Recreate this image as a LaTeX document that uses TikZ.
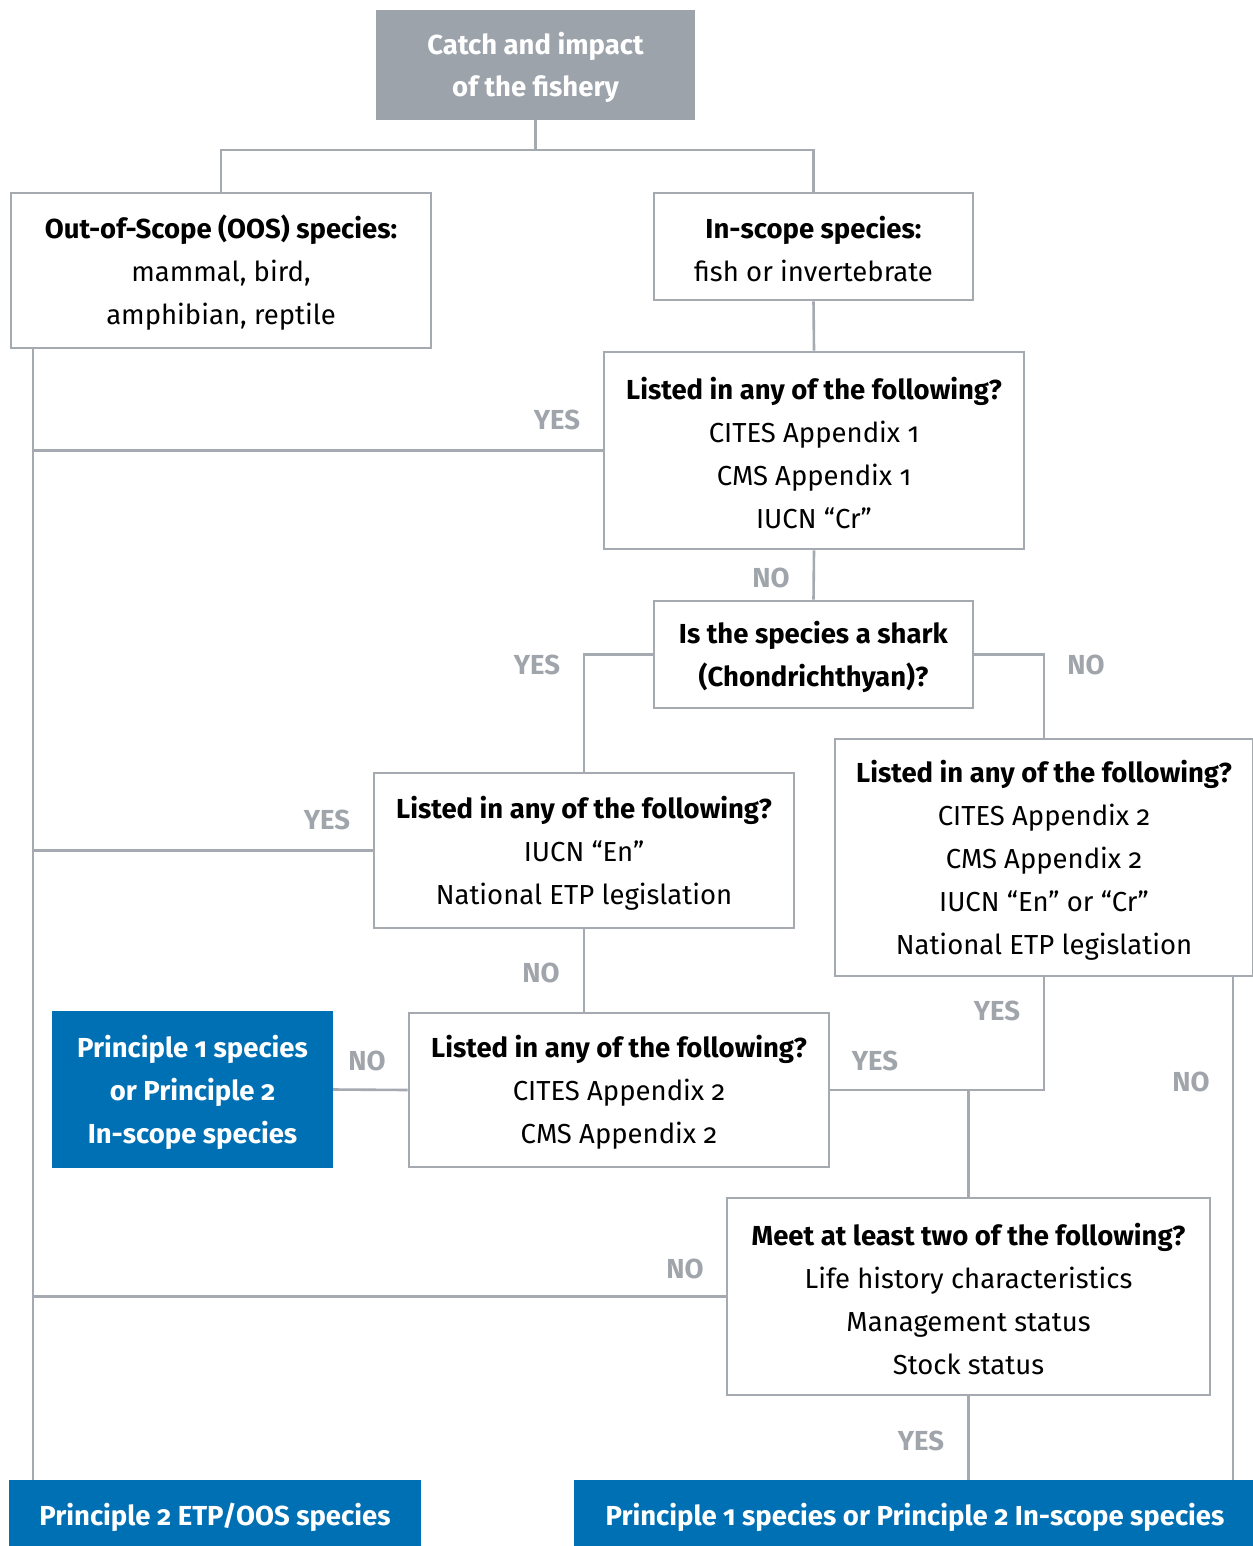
\documentclass[tikz,border=0pt]{standalone}
\usepackage{fontspec}
\setmainfont{Fira Sans}[Numbers=OldStyle]
\usetikzlibrary{calc}
\definecolor{linegray}{RGB}{165,170,177}
\definecolor{titlegray}{RGB}{157,163,171}
\definecolor{lblgray}{RGB}{160,165,172}
\definecolor{msblue}{RGB}{0,112,181}
\newcommand\tstr{\rule{0pt}{27.5pt}}
\newcommand\bstr{\rule{0pt}{31pt}}
\tikzset{
  qbox/.style={draw=linegray, line width=2.6pt, fill=white, inner sep=0pt, align=center,
    font=\fontsize{27.5}{43}\selectfont, text=black},
  bluebox/.style={fill=msblue, inner sep=0pt, align=center, text=white,
    font=\fontsize{27.5}{43}\selectfont\bfseries},
  conn/.style={draw=linegray, line width=2.6pt},
  lbl/.style={text=lblgray, font=\fontsize{27.5}{30}\selectfont\bfseries, inner sep=0pt},
}
\begin{document}
\begin{tikzpicture}[x=1pt,y=-1pt]
\useasboundingbox (0,0) rectangle (1252,1546);
\coordinate (lx) at (33,0);
\coordinate (rx) at (1233,0);
% boxes
\node[fill=titlegray, text=white, inner sep=0pt, align=center, font=\fontsize{27.5}{42}\selectfont\bfseries,
  minimum width=319pt, minimum height=110pt] (top) at (535.5,65) {\tstr Catch and impact\\of the fishery};
\node[qbox, minimum width=420pt, minimum height=155pt] (oos) at (221,270.5)
  {\tstr\textbf{Out-of-Scope (OOS) species:}\\mammal, bird,\\amphibian, reptile};
\node[qbox, minimum width=319pt, minimum height=107pt] (insc) at (813.5,246.5)
  {\tstr\textbf{In-scope species:}\\fish or invertebrate};
\node[qbox, minimum width=420pt, minimum height=197pt] (la) at (814,450.5)
  {\tstr\textbf{Listed in any of the following?}\\CITES Appendix 1\\CMS Appendix 1\\IUCN “Cr”};
\node[qbox, minimum width=319pt, minimum height=107pt] (shark) at (813.5,654.5)
  {\tstr\textbf{Is the species a shark}\\\textbf{(Chondrichthyan)?}};
\node[qbox, minimum width=418pt, minimum height=237pt] (lr) at (1044,857.5)
  {\tstr\textbf{Listed in any of the following?}\\CITES Appendix 2\\CMS Appendix 2\\IUCN “En” or “Cr”\\National ETP legislation};
\node[qbox, minimum width=420pt, minimum height=155pt] (lm) at (584,850.5)
  {\tstr\textbf{Listed in any of the following?}\\IUCN “En”\\National ETP legislation};
\node[qbox, minimum width=420pt, minimum height=154pt] (ll) at (619,1090)
  {\tstr\textbf{Listed in any of the following?}\\CITES Appendix 2\\CMS Appendix 2};
\node[bluebox, minimum width=281pt, minimum height=157pt] (p1) at (192.5,1089.5)
  {\tstr Principle 1 species\\or Principle 2\\In-scope species};
\node[qbox, minimum width=483pt, minimum height=197pt] (meet) at (968.5,1296.5)
  {\tstr\textbf{Meet at least two of the following?}\\Life history characteristics\\Management status\\Stock status};
\node[bluebox, minimum width=412pt, minimum height=66pt] (p2l) at (215,1513)
  {\bstr Principle 2 ETP/OOS species};
\node[bluebox, minimum width=682pt, minimum height=66pt] (p1r) at (915,1513)
  {\bstr Principle 1 species or Principle 2 In-scope species};
% connectors
\coordinate (split) at ($(top.south)+(0,30)$);
\draw[conn] (top.south) -- (split);
\draw[conn] (oos.north) |- (split) -| (insc.north);
\draw[conn] (insc.south) -- (la.north);
\draw[conn] (oos.south -| lx) -- (p2l.north -| lx);
\draw[conn] (la.west) -- (la.west -| lx);
\draw[conn] (la.south) -- (shark.north);
\draw[conn] (shark.west) -| (lm.north);
\draw[conn] (shark.east) -| (lr.north);
\draw[conn] (lm.west) -- (lm.west -| lx);
\draw[conn] (lm.south) -- (lm.south |- ll.north);
\draw[conn] (ll.west) -- (p1.east);
\draw[conn] (ll.east) -| (lr.south);
\draw[conn] (meet.north) -- (meet.north |- ll.east);
\draw[conn] (lr.south -| rx) -- (p1r.north -| rx);
\draw[conn] (meet.west) -- (meet.west -| lx);
\draw[conn] (meet.south) -- (meet.south |- p1r.north);
% labels
\node[lbl] (y1) at (557,420) {YES};
\node[lbl] (n1) at (771,578) {NO};
\node[lbl] (y2) at (537,665) {YES};
\node[lbl] (n2) at (1086,665) {NO};
\node[lbl] (y3) at (327,820) {YES};
\node[lbl] (n3) at (541,973) {NO};
\node[lbl] (n4) at (367,1061) {NO};
\node[lbl] (y4) at (875,1061) {YES};
\node[lbl] (y5) at (997,1011) {YES};
\node[lbl] (n5) at (1191,1082) {NO};
\node[lbl] (n6) at (685,1269) {NO};
\node[lbl] (y6) at (921,1441) {YES};
\end{tikzpicture}
\end{document}
